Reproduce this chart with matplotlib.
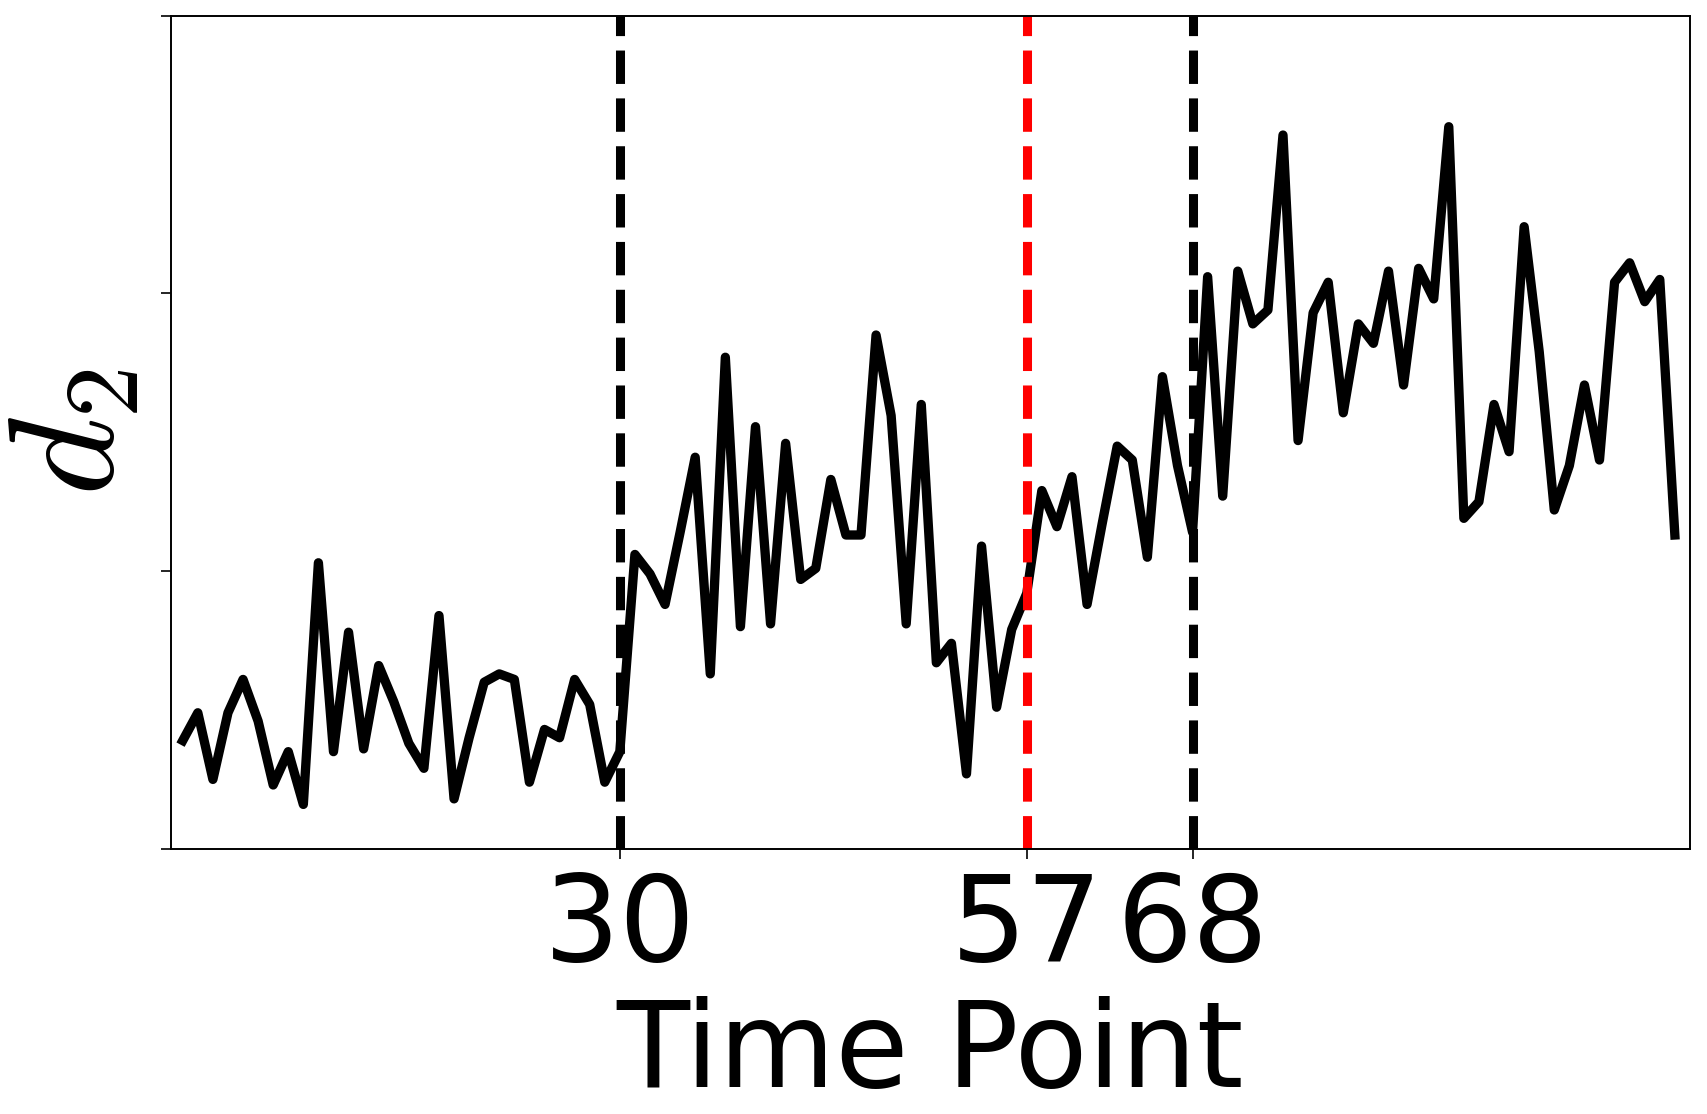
import matplotlib
matplotlib.use("Agg")
import matplotlib.pyplot as plt
import numpy as np

plt.rcParams['mathtext.fontset'] = 'cm'

# time index and the d_2 series (arbitrary units, y tick labels hidden)
time_point = np.arange(1, 101)
d2 = [0.39, 0.49, 0.25, 0.49, 0.61, 0.46, 0.23, 0.35, 0.16, 1.03,
      0.35, 0.78, 0.36, 0.66, 0.53, 0.38, 0.29, 0.84, 0.18, 0.40,
      0.60, 0.63, 0.61, 0.24, 0.43, 0.40, 0.61, 0.52, 0.24, 0.35,
      1.06, 0.99, 0.88, 1.14, 1.41, 0.63, 1.77, 0.80, 1.52, 0.81,
      1.46, 0.97, 1.01, 1.33, 1.13, 1.13, 1.85, 1.56, 0.81, 1.60,
      0.67, 0.74, 0.27, 1.09, 0.51, 0.79, 0.92, 1.29, 1.16, 1.34,
      0.88, 1.17, 1.45, 1.40, 1.05, 1.70, 1.38, 1.14, 2.06, 1.27,
      2.08, 1.89, 1.94, 2.57, 1.47, 1.93, 2.04, 1.57, 1.89, 1.82,
      2.08, 1.67, 2.09, 1.98, 2.60, 1.19, 1.25, 1.60, 1.43, 2.24,
      1.79, 1.22, 1.38, 1.67, 1.40, 2.04, 2.11, 1.97, 2.05, 1.13]

true_changes = [30, 68]
detected_change = 57
xticks = [30, 57, 68]
yticks = [0, 1, 2, 3]

fig = plt.figure(figsize=(17.07, 11.14), dpi=100)
ax = fig.add_axes([0.100, 0.238, 0.890, 0.748])

ax.plot(time_point, d2, color='black', linewidth=6.7)
for cp in true_changes:
    ax.axvline(cp, color='black', linestyle='--', linewidth=6.5)
ax.axvline(detected_change, color='red', linestyle='--', linewidth=6.5)

ax.set_xlim(0.2, 101)
ax.set_ylim(0, 3)
ax.set_xticks(xticks)
ax.set_xticklabels([str(t) for t in xticks], fontsize=86)
ax.set_yticks(yticks)
ax.set_yticklabels([])
ax.tick_params(length=7.5, width=1.2)
ax.tick_params(axis='x', pad=8)
for s in ax.spines.values():
    s.set_linewidth(1.4)

ax.set_xlabel('Time Point', fontsize=86, labelpad=7)
ax.set_ylabel('$d_2$', fontsize=108, labelpad=8)

fig.savefig('out.png', dpi=100)
